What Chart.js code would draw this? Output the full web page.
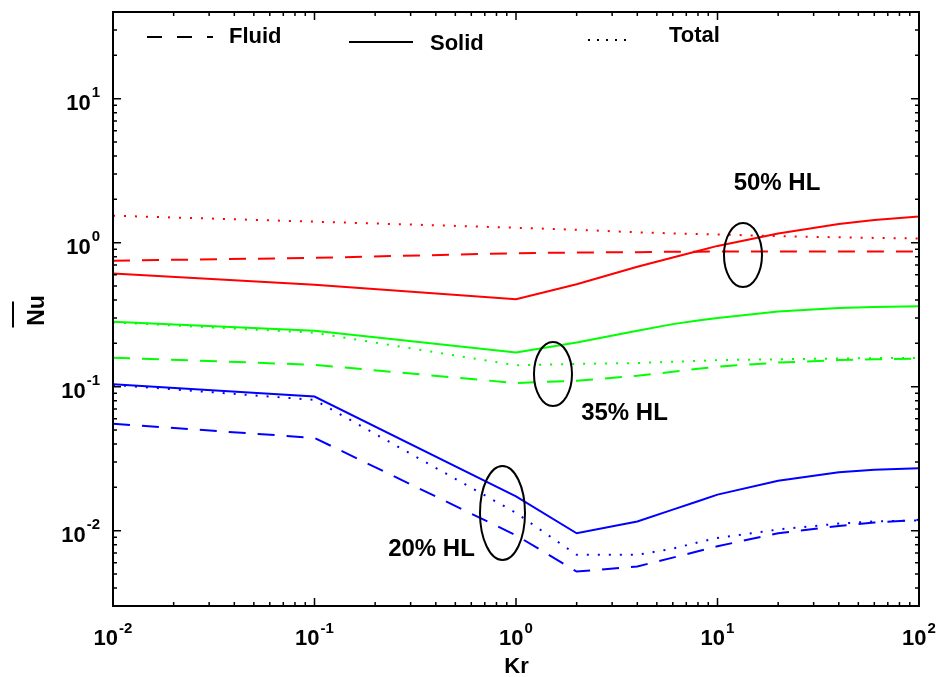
<!DOCTYPE html>
<html>
<head>
<meta charset="utf-8">
<style>
  html, body { margin: 0; padding: 0; background: #ffffff; }
  #wrap { width: 942px; height: 677px; }
</style>
<script src="https://cdn.jsdelivr.net/npm/chart.js@4/dist/chart.umd.min.js"></script>
</head>
<body>
<div id="wrap"><canvas id="c" width="942" height="677"></canvas></div>
<script>
// ---------- data ----------
const KR = [0.01, 0.1, 1, 2, 4, 6, 8, 10, 20, 40, 60, 100];

// 50% HL
const HL50_FLUID = [0.75, 0.785, 0.845, 0.855, 0.86, 0.865, 0.865, 0.87, 0.87, 0.87, 0.87, 0.87];
const HL50_SOLID = [0.61, 0.51, 0.405, 0.515, 0.68, 0.79, 0.875, 0.95, 1.16, 1.35, 1.44, 1.52];
const HL50_TOTAL = [1.54, 1.40, 1.27, 1.23, 1.18, 1.16, 1.15, 1.14, 1.11, 1.09, 1.08, 1.07];

// 35% HL
const HL35_FLUID = [0.159, 0.142, 0.106, 0.110, 0.119, 0.127, 0.133, 0.138, 0.147, 0.153, 0.155, 0.157];
const HL35_SOLID = [0.283, 0.245, 0.173, 0.203, 0.245, 0.272, 0.288, 0.300, 0.333, 0.352, 0.357, 0.362];
const HL35_TOTAL = [0.280, 0.237, 0.141, 0.144, 0.146, 0.149, 0.151, 0.153, 0.155, 0.157, 0.158, 0.158];

// 20% HL
const HL20_FLUID = [0.0553, 0.0441, 0.0093, 0.0052, 0.00565, 0.0065, 0.0072, 0.0078, 0.0096, 0.0108, 0.0114, 0.0119];
const HL20_SOLID = [0.104, 0.0855, 0.0173, 0.0096, 0.0116, 0.0140, 0.0160, 0.0178, 0.0222, 0.0255, 0.0265, 0.0272];
const HL20_TOTAL = [0.103, 0.081, 0.0133, 0.0068, 0.0068, 0.0075, 0.0083, 0.0089, 0.0102, 0.0112, 0.0116, 0.0118];

// axes
const X_MIN = 0.01, X_MAX = 100;
const Y_MIN = 0.003, Y_MAX = 40;
const X_TICKS = [0.01, 0.1, 1, 10, 100];
const X_TICK_EXP = ['-2', '-1', '0', '1', '2'];
const Y_TICKS = [0.01, 0.1, 1, 10];
const Y_TICK_EXP = ['-2', '-1', '0', '1'];
const X_TITLE = 'Kr';
const Y_TITLE = 'Nu';

// legend & group labels
const LEGEND_LABELS = ['Fluid', 'Solid', 'Total'];
const GROUP_LABELS = ['50% HL', '35% HL', '20% HL'];

// ---------- styles ----------
const RED = '#ff0000', GREEN = '#00ff00', BLUE = '#0000ff';
const DASH = [17, 12];
const DOT = [2, 9];
const FONT_FAMILY = '"Liberation Sans", Arial, Helvetica, sans-serif';

function pts(vals) { return KR.map((k, i) => ({ x: k, y: vals[i] })); }
function ds(label, vals, color, dash) {
  return {
    label, data: pts(vals), borderColor: color, backgroundColor: color,
    borderWidth: 2, borderDash: dash, borderCapStyle: 'butt',
    pointRadius: 0, tension: 0, fill: false
  };
}

// annotation anchors in data coordinates (Kr, Nu); radii in px
const ELLIPSES = [
  { kr: 13.38, nu: 0.821, rx: 19, ry: 32 },
  { kr: 1.526, nu: 0.1225, rx: 19, ry: 32 },
  { kr: 0.857, nu: 0.01327, rx: 22.5, ry: 47 }
];
const LABEL_ANCHORS = [
  { kr: 19.74, nu: 2.34 },
  { kr: 3.455, nu: 0.0591 },
  { kr: 0.3807, nu: 0.00672 }
];

function logTicks(min, max) {
  const out = [];
  for (let e = Math.floor(Math.log10(min)); e <= Math.ceil(Math.log10(max)); e++) {
    for (let m = 1; m < 10; m++) {
      const v = m * Math.pow(10, e);
      if (v >= min * 0.999 && v <= max * 1.001) out.push({ v, major: m === 1 });
    }
  }
  return out;
}

function drawPow(ctx, exp, x, baseline, align) {
  const baseFont = 'bold 22px ' + FONT_FAMILY;
  const expFont = 'bold 15px ' + FONT_FAMILY;
  ctx.font = baseFont; const wb = ctx.measureText('10').width;
  ctx.font = expFont; const we = ctx.measureText(exp).width;
  const total = wb + 1 + we;
  const x0 = align === 'right' ? x - total : x - total / 2;
  ctx.textAlign = 'left'; ctx.textBaseline = 'alphabetic';
  ctx.font = baseFont; ctx.fillText('10', x0, baseline);
  ctx.font = expFont; ctx.fillText(exp, x0 + wb + 1, baseline - 12.5);
}

const decor = {
  id: 'decor',
  afterDraw(chart) {
    const { ctx, chartArea: a } = chart;
    const xs = chart.scales.x, ys = chart.scales.y;
    ctx.save();
    ctx.fillStyle = '#000'; ctx.strokeStyle = '#000';

    // frame
    ctx.lineWidth = 2;
    ctx.strokeRect(a.left, a.top, a.right - a.left, a.bottom - a.top);

    // inward ticks on all four sides
    ctx.lineWidth = 1.5;
    ctx.beginPath();
    for (const t of logTicks(X_MIN, X_MAX)) {
      const px = xs.getPixelForValue(t.v);
      const len = t.major ? 8 : 4;
      ctx.moveTo(px, a.bottom); ctx.lineTo(px, a.bottom - len);
      ctx.moveTo(px, a.top); ctx.lineTo(px, a.top + len);
    }
    for (const t of logTicks(Y_MIN, Y_MAX)) {
      const py = ys.getPixelForValue(t.v);
      const len = t.major ? 8 : 4;
      ctx.moveTo(a.left, py); ctx.lineTo(a.left + len, py);
      ctx.moveTo(a.right, py); ctx.lineTo(a.right - len, py);
    }
    ctx.stroke();

    // tick labels
    X_TICKS.forEach((v, i) => {
      drawPow(ctx, X_TICK_EXP[i], xs.getPixelForValue(v), a.bottom + 39, 'center');
    });
    Y_TICKS.forEach((v, i) => {
      drawPow(ctx, Y_TICK_EXP[i], a.left - 13, ys.getPixelForValue(v) + 11, 'right');
    });

    // axis titles
    ctx.font = 'bold 22px ' + FONT_FAMILY;
    ctx.textAlign = 'center'; ctx.textBaseline = 'alphabetic';
    ctx.fillText(X_TITLE, (a.left + a.right) / 2 + 0.5, a.bottom + 67);
    const yc = 310.5;
    ctx.save();
    ctx.translate(a.left - 69, yc);
    ctx.rotate(-Math.PI / 2);
    ctx.font = 'bold 23px ' + FONT_FAMILY;
    ctx.fillText(Y_TITLE, 0, 0);
    ctx.restore();
    ctx.lineWidth = 2;
    ctx.beginPath();
    ctx.moveTo(a.left - 100, yc - 9); ctx.lineTo(a.left - 100, yc + 17);
    ctx.stroke();

    // legend
    ctx.lineWidth = 2;
    ctx.font = 'bold 22px ' + FONT_FAMILY;
    ctx.textAlign = 'left';
    // Fluid
    ctx.setLineDash([15, 15]);
    ctx.beginPath(); ctx.moveTo(a.left + 34, a.top + 25); ctx.lineTo(a.left + 100, a.top + 25); ctx.stroke();
    ctx.fillText(LEGEND_LABELS[0], a.left + 116, a.top + 31);
    // Solid
    ctx.setLineDash([]);
    ctx.beginPath(); ctx.moveTo(a.left + 236, a.top + 30); ctx.lineTo(a.left + 300, a.top + 30); ctx.stroke();
    ctx.fillText(LEGEND_LABELS[1], a.left + 317, a.top + 38);
    // Total
    ctx.setLineDash([2, 7]);
    ctx.beginPath(); ctx.moveTo(a.left + 475, a.top + 28); ctx.lineTo(a.left + 520, a.top + 28); ctx.stroke();
    ctx.setLineDash([]);
    ctx.fillText(LEGEND_LABELS[2], a.left + 556, a.top + 30);

    // ellipses
    ctx.lineWidth = 2;
    ELLIPSES.forEach(e => {
      ctx.beginPath();
      ctx.ellipse(xs.getPixelForValue(e.kr), ys.getPixelForValue(e.nu), e.rx, e.ry, 0, 0, Math.PI * 2);
      ctx.stroke();
    });

    // group labels
    ctx.font = 'bold 24px ' + FONT_FAMILY;
    ctx.textAlign = 'center'; ctx.textBaseline = 'alphabetic';
    LABEL_ANCHORS.forEach((p, i) => {
      ctx.fillText(GROUP_LABELS[i], xs.getPixelForValue(p.kr), ys.getPixelForValue(p.nu));
    });

    ctx.restore();
  }
};

new Chart(document.getElementById('c'), {
  type: 'line',
  data: {
    datasets: [
      ds('50% HL Fluid', HL50_FLUID, RED, DASH),
      ds('50% HL Solid', HL50_SOLID, RED, []),
      ds('50% HL Total', HL50_TOTAL, RED, DOT),
      ds('35% HL Fluid', HL35_FLUID, GREEN, DASH),
      ds('35% HL Solid', HL35_SOLID, GREEN, []),
      ds('35% HL Total', HL35_TOTAL, GREEN, DOT),
      ds('20% HL Fluid', HL20_FLUID, BLUE, DASH),
      ds('20% HL Solid', HL20_SOLID, BLUE, []),
      ds('20% HL Total', HL20_TOTAL, BLUE, DOT)
    ]
  },
  options: {
    responsive: false,
    animation: false,
    devicePixelRatio: 1,
    layout: { padding: { left: 113, top: 12, right: 23, bottom: 71 } },
    plugins: { legend: { display: false }, tooltip: { enabled: false } },
    scales: {
      x: { type: 'logarithmic', min: X_MIN, max: X_MAX, display: false },
      y: { type: 'logarithmic', min: Y_MIN, max: Y_MAX, display: false }
    }
  },
  plugins: [decor]
});
</script>
</body>
</html>
